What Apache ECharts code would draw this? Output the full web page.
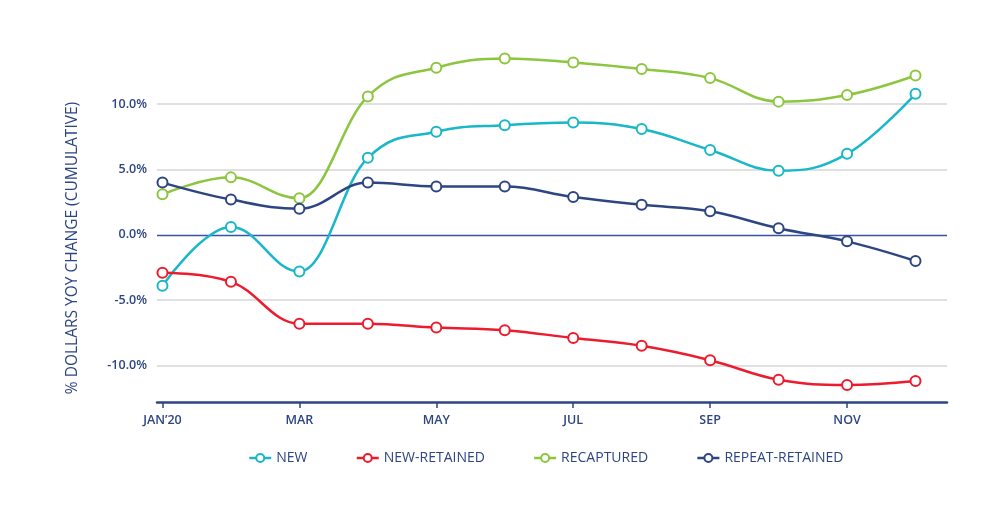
<!DOCTYPE html>
<html>
<head>
    <meta charset="utf-8">
    <title>dollars yoy change</title>
    <style>
        html,body,#chart{
            height: 100%;
            width: 100%;
            padding: 0;
            margin: 0;
            background: #fff;
        }
    </style>
</head>
<body>
    <div id="chart"></div>
    <script src="https://cdn.jsdelivr.net/npm/echarts@6/dist/echarts.min.js"></script>
    <script>
        // months, 0 = JAN'20 ... 11 = DEC
        var months = ['JAN\u201920', 'FEB', 'MAR', 'APR', 'MAY', 'JUN', 'JUL', 'AUG', 'SEP', 'OCT', 'NOV', 'DEC']
        var tickMonths = [0, 2, 4, 6, 8, 10]
        var yTicks = [-10, -5, 0, 5, 10]

        var newVals = [-3.9, 0.6, -2.8, 5.9, 7.9, 8.4, 8.6, 8.1, 6.5, 4.9, 6.2, 10.8]
        var newRetained = [-2.9, -3.6, -6.8, -6.8, -7.1, -7.3, -7.9, -8.5, -9.6, -11.1, -11.5, -11.2]
        var recaptured = [3.1, 4.4, 2.8, 10.6, 12.8, 13.5, 13.2, 12.7, 12.0, 10.2, 10.7, 12.2]
        var repeatRetained = [4.0, 2.7, 2.0, 4.0, 3.7, 3.7, 2.9, 2.3, 1.8, 0.5, -0.5, -2.0]

        var navy = '#2d4583'
        var font = 'Open Sans'

        function pts(arr){
            return arr.map(function(v, i){ return [i, v] })
        }

        // spline control points (smoothing 1.5), control points kept inside neighbour y range
        function ctrl(p, j){
            var cur = p[j], prev = p[j - 1], next = p[j + 1]
            if(!prev || !next) return { left: cur, right: cur }
            var s = 1.5, d = s + 1
            var lx = (s * cur[0] + prev[0]) / d, ly = (s * cur[1] + prev[1]) / d
            var rx = (s * cur[0] + next[0]) / d, ry = (s * cur[1] + next[1]) / d
            var corr = 0
            if(rx !== lx) corr = (ry - ly) * (rx - cur[0]) / (rx - lx) + cur[1] - ry
            ly += corr
            ry += corr
            if(ly > prev[1] && ly > cur[1]){ ly = Math.max(prev[1], cur[1]); ry = 2 * cur[1] - ly }
            else if(ly < prev[1] && ly < cur[1]){ ly = Math.min(prev[1], cur[1]); ry = 2 * cur[1] - ly }
            if(ry > next[1] && ry > cur[1]){ ry = Math.max(next[1], cur[1]); ly = 2 * cur[1] - ry }
            else if(ry < next[1] && ry < cur[1]){ ry = Math.min(next[1], cur[1]); ly = 2 * cur[1] - ry }
            return { left: [lx, ly], right: [rx, ry] }
        }

        function curve(color, arr){
            return {
                type: 'custom',
                data: pts(arr),
                z: 2,
                silent: true,
                renderItem: function(params, api){
                    var i = params.dataIndex
                    if(i === 0) return null
                    var p = arr.map(function(v, k){ return api.coord([k, v]) })
                    var a = ctrl(p, i - 1).right
                    var b = ctrl(p, i).left
                    return {
                        type: 'bezierCurve',
                        shape: {
                            x1: p[i - 1][0], y1: p[i - 1][1],
                            cpx1: a[0], cpy1: a[1],
                            cpx2: b[0], cpy2: b[1],
                            x2: p[i][0], y2: p[i][1]
                        },
                        style: { stroke: color, lineWidth: 2.5, fill: null, lineCap: 'round' }
                    }
                }
            }
        }

        function markers(name, color, arr){
            return {
                name: name,
                type: 'line',
                data: pts(arr),
                symbol: 'emptyCircle',
                symbolSize: 10,
                z: 3,
                lineStyle: { color: color, width: 2.5, opacity: 0 },
                itemStyle: { color: color, borderColor: color, borderWidth: 2.5 }
            }
        }

        var chart = echarts.init(document.getElementById('chart'))

        var lines = [
            ['NEW', '#19b7c8', newVals],
            ['NEW-RETAINED', '#ec1c2e', newRetained],
            ['RECAPTURED', '#8cc63f', recaptured],
            ['REPEAT-RETAINED', navy, repeatRetained]
        ]

        var series = []
        lines.forEach(function(l){ series.push(curve(l[1], l[2])) })
        lines.forEach(function(l){ series.push(markers(l[0], l[1], l[2])) })

        // grid lines drawn as markLines, the 0 line in navy
        series[4].markLine = {
            silent: true,
            symbol: 'none',
            label: { show: false },
            z: 1,
            data: yTicks.map(function(v){
                return {
                    yAxis: v,
                    lineStyle: v === 0 ? { color: '#3a52a0', width: 1.3, type: 'solid', opacity: 1 } : { color: '#d6d6d6', width: 1.6, type: 'solid', opacity: 1 }
                }
            })
        }

        chart.setOption({
            animation: false,
            grid: { left: 157, right: 53, top: 52, bottom: 121 },
            legend: {
                left: 243,
                top: 446,
                itemWidth: 22,
                itemHeight: 10,
                itemGap: 48,
                lineStyle: { opacity: 1, width: 2.5 },
                textStyle: { color: navy, fontFamily: font, fontSize: 14 },
                data: ['NEW', 'NEW-RETAINED', 'RECAPTURED', 'REPEAT-RETAINED']
            },
            graphic: [{
                type: 'text',
                x: 73,
                y: 248,
                rotation: Math.PI / 2,
                style: {
                    text: '% DOLLARS YOY CHANGE (CUMULATIVE)',
                    fill: navy,
                    font: '15.5px "Open Sans"',
                    align: 'center',
                    verticalAlign: 'middle'
                }
            }],
            xAxis: {
                type: 'value',
                min: -0.08,
                max: 11.46,
                axisLine: { onZero: false, lineStyle: { color: navy, width: 2.5 } },
                axisTick: { show: true, customValues: tickMonths, length: 6, lineStyle: { color: navy, width: 1.5 } },
                splitLine: { show: false },
                axisLabel: {
                    customValues: tickMonths,
                    color: navy,
                    fontFamily: font,
                    fontWeight: 600,
                    fontSize: 12.5,
                    margin: 12,
                    formatter: function(v){ return months[Math.round(v)] }
                }
            },
            yAxis: {
                type: 'value',
                min: -12.8,
                max: 14,
                axisLine: { show: false },
                axisTick: { show: false },
                splitLine: { show: false },
                axisLabel: {
                    customValues: yTicks,
                    color: navy,
                    fontFamily: font,
                    fontWeight: 600,
                    fontSize: 12.5,
                    margin: 10,
                    formatter: function(v){ return v.toFixed(1) + '%' }
                }
            },
            series: series
        })
    </script>
</body>
</html>
